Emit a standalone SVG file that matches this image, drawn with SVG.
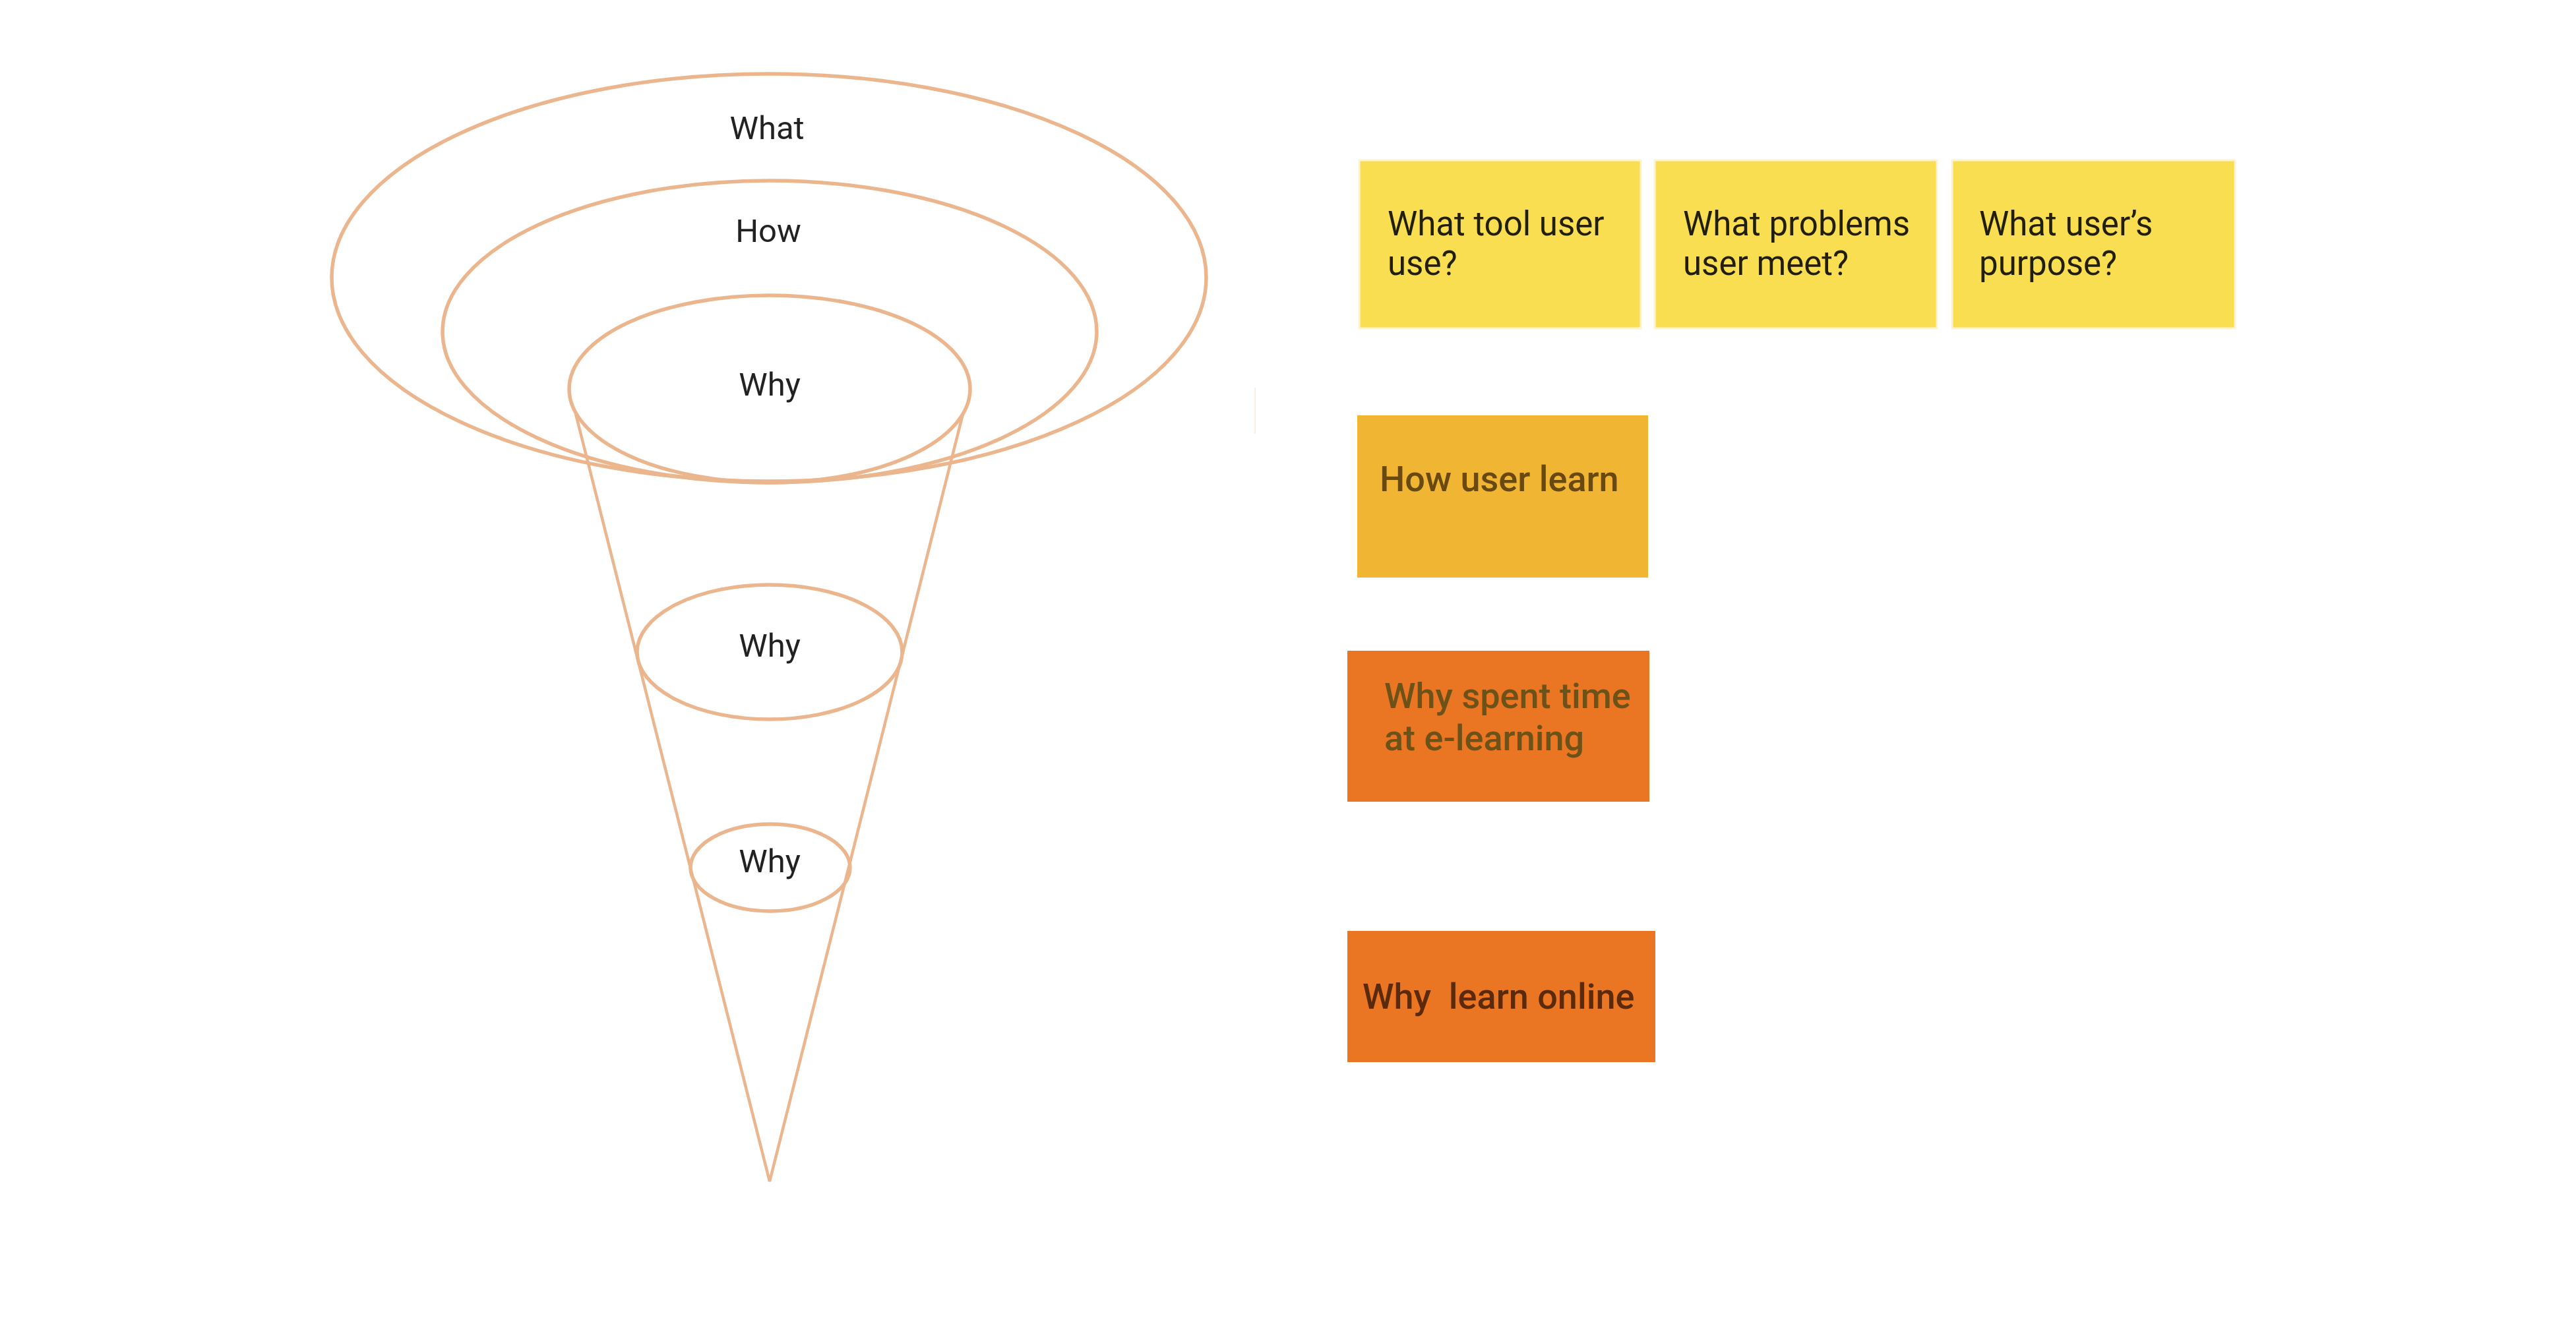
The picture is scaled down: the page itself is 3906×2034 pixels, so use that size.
<svg xmlns="http://www.w3.org/2000/svg" width="3906" height="2034" viewBox="0 0 3906 2034">
<style>
.ring{fill:none;stroke:#EBB68E;stroke-width:5.5}
.cone{fill:none;stroke:#EBB68E;stroke-width:4.5}
.lbl{font-family:Roboto,"Liberation Sans",sans-serif;font-size:49px;fill:#222;text-anchor:middle}
.note{font-family:Roboto,"Liberation Sans",sans-serif;font-size:51px;white-space:pre}
.big{font-size:54px;font-weight:500}
.yel{fill:#F9DE52;stroke:#FDF3D2;stroke-width:3}
.ytx{fill:#221e0c}
</style>
<rect width="3906" height="2034" fill="#fff"/>
<line x1="1903" y1="588" x2="1903" y2="658" stroke="#FBEFE3" stroke-width="2"/>
<g id="connectors">
<polyline class="cone" points="873,628 1167,1792 1460,628"/>
</g>
<g id="what">
<ellipse class="ring" cx="1166" cy="421" rx="663" ry="309"/>
<text class="lbl" x="1163" y="211">What</text>
</g>
<g id="how">
<ellipse class="ring" cx="1167" cy="503" rx="496" ry="229"/>
<text class="lbl" x="1165" y="367">How</text>
</g>
<g id="why1">
<ellipse class="ring" cx="1167" cy="590" rx="304" ry="142"/>
<text class="lbl" x="1167" y="600">Why</text>
</g>
<g id="why2">
<ellipse class="ring" cx="1167" cy="989" rx="201" ry="102"/>
<text class="lbl" x="1167" y="996">Why</text>
</g>
<g id="why3">
<ellipse class="ring" cx="1168" cy="1316" rx="121" ry="66"/>
<text class="lbl" x="1167" y="1323">Why</text>
</g>
<g id="note-tool">
<rect class="yel" x="2061" y="243" width="427" height="255"/>
<text class="note ytx" x="2104" y="357">What tool user</text>
<text class="note ytx" x="2104" y="417">use?</text>
</g>
<g id="note-problems">
<rect class="yel" x="2509" y="243" width="428" height="255"/>
<text class="note ytx" x="2552" y="357">What problems</text>
<text class="note ytx" x="2552" y="417">user meet?</text>
</g>
<g id="note-purpose">
<rect class="yel" x="2960" y="243" width="429" height="255"/>
<text class="note ytx" x="3001" y="357">What user’s</text>
<text class="note ytx" x="3001" y="417">purpose?</text>
</g>
<g id="note-how">
<rect x="2058" y="630" width="441" height="246" fill="#F0B532"/>
<text class="note big" x="2092" y="745" fill="#694912">How user learn</text>
</g>
<g id="note-spent">
<rect x="2043" y="987" width="458" height="229" fill="#EA7522"/>
<text class="note big" x="2099" y="1074" fill="#6C5118">Why spent time</text>
<text class="note big" x="2099" y="1138" fill="#6C5118">at e-learning</text>
</g>
<g id="note-online">
<rect x="2043" y="1412" width="467" height="199" fill="#EA7522"/>
<text class="note big" x="2066" y="1530" fill="#5A2A0B">Why  learn online</text>
</g>
</svg>
